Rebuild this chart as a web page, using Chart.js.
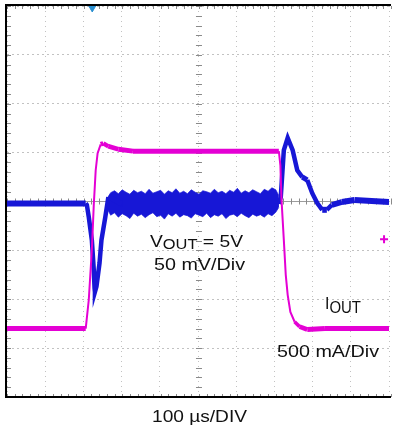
<!DOCTYPE html>
<html>
<head>
<meta charset="utf-8">
<script src="https://cdn.jsdelivr.net/npm/chart.js@4/dist/chart.umd.min.js"></script>
<style>
  html, body { margin: 0; padding: 0; background: #fff; overflow: hidden; }
  canvas { display: block; }
</style>
</head>
<body>
<canvas id="scope" width="395" height="427"></canvas>
<script>
// time in us (100 us/div), levels in screen divisions
const Iout_t = [0, 100, 205, 213, 221, 226, 231, 236, 244, 251, 264, 290, 328, 500, 708, 712, 715, 721, 726, 731, 738, 749, 762, 782, 828, 995];
const Iout_v = [-2.60, -2.60, -2.60, -2.01, -0.99, -0.07, 0.64, 0.99, 1.17, 1.19, 1.13, 1.07, 1.03, 1.03, 1.03, 0.74, 0.03, -0.79, -1.50, -1.91, -2.26, -2.46, -2.56, -2.62, -2.60, -2.60];

const Vout_t = [0, 100, 205, 208, 213, 221, 226, 228, 229, 233, 241, 246, 256, 264, 300, 400, 500, 600, 708, 713, 721, 731, 744, 756, 769, 782, 795, 808, 821, 833, 846, 872, 905, 995];
const Vout_v = [-0.04, -0.04, -0.04, -0.07, -0.32, -0.79, -1.40, -1.77, -1.85, -1.74, -1.26, -0.79, -0.32, 0.09, -0.05, -0.05, -0.05, -0.05, -0.05, 0.09, 1.05, 1.30, 1.05, 0.64, 0.50, 0.44, 0.17, -0.03, -0.17, -0.17, -0.07, -0.01, 0.03, -0.01];

// ripple envelope of VOUT while the load is on
const Noise_t = [262, 270, 280, 290, 300, 310, 320, 330, 340, 350, 360, 370, 380, 390, 400, 410, 420, 430, 440, 450, 460, 470, 480,
  490, 500, 510, 520, 530, 540, 550, 560, 570, 580, 590, 600, 610, 620, 630, 640, 650, 660, 670, 680, 690, 700, 708];
const Noise_hi = [0.08, 0.18, 0.22, 0.16, 0.24, 0.19, 0.15, 0.23, 0.18, 0.21, 0.16, 0.25, 0.17, 0.20, 0.23, 0.15, 0.22, 0.18, 0.26, 0.17, 0.21, 0.16, 0.24,
  0.19, 0.15, 0.22, 0.20, 0.17, 0.25, 0.18, 0.21, 0.16, 0.23, 0.19, 0.27, 0.17, 0.22, 0.18, 0.24, 0.20, 0.16, 0.25, 0.21, 0.28, 0.24, 0.12];
const Noise_lo = [-0.16, -0.28, -0.23, -0.32, -0.25, -0.29, -0.35, -0.24, -0.30, -0.26, -0.33, -0.27, -0.23, -0.31, -0.28, -0.36, -0.25, -0.30, -0.24, -0.32, -0.27, -0.29, -0.34,
  -0.25, -0.28, -0.31, -0.24, -0.33, -0.27, -0.30, -0.25, -0.35, -0.28, -0.26, -0.31, -0.24, -0.29, -0.33, -0.26, -0.30, -0.27, -0.32, -0.25, -0.29, -0.22, -0.12];

const Trig_marker = [{x: 222, y: 3.96}];
const Ch_marker = [{x: 982, y: -0.77}];

const MAGENTA = '#e400d4';
const BLUE = '#1717d6';
const FONT = '"Liberation Sans", Arial, sans-serif';

function pts(t, v) { return t.map((x, i) => ({x: x, y: v[i]})); }

// a scope trace is thick vertically (noise) but thin on fast edges
function traceWidth(band, min) {
  return ctx => {
    const dx = Math.abs(ctx.p1.x - ctx.p0.x), dy = Math.abs(ctx.p1.y - ctx.p0.y);
    const len = Math.hypot(dx, dy) || 1;
    return Math.max(min, band * dx / len);
  };
}

function drawRuns(ctx, runs, x, y, width) {
  let total = 0;
  for (const r of runs) {
    ctx.font = r.size + 'px ' + FONT;
    r.w = ctx.measureText(r.t).width;
    total += r.w;
  }
  ctx.save();
  ctx.translate(x, y);
  ctx.scale(width / total, 1);
  let cx = 0;
  for (const r of runs) {
    ctx.font = r.size + 'px ' + FONT;
    ctx.fillText(r.t, cx, r.dy || 0);
    cx += r.w;
  }
  ctx.restore();
}

const graticule = {
  id: 'graticule',
  beforeDatasetsDraw(chart) {
    const {ctx, chartArea: a, scales: {x, y}} = chart;
    const cx = x.getPixelForValue(500), cy = y.getPixelForValue(0);
    ctx.save();
    ctx.strokeStyle = '#9c9c9c';
    ctx.lineWidth = 1;
    ctx.beginPath();
    ctx.moveTo(a.left, cy); ctx.lineTo(a.right, cy);
    ctx.stroke();
    ctx.strokeStyle = '#8a8a8a';
    ctx.beginPath();
    for (let v = 0; v <= 1000; v += 20) {
      const px = Math.round(x.getPixelForValue(v)) + 0.5;
      ctx.moveTo(px, cy - 3); ctx.lineTo(px, cy + 3);
      ctx.moveTo(px, a.top); ctx.lineTo(px, a.top + 3);
      ctx.moveTo(px, a.bottom); ctx.lineTo(px, a.bottom - 3);
    }
    for (let k = -20; k <= 20; k++) {
      const py = Math.round(y.getPixelForValue(k / 5)) + 0.5;
      ctx.moveTo(cx - 3, py); ctx.lineTo(cx + 3, py);
      ctx.moveTo(a.left, py); ctx.lineTo(a.left + 4, py);
    }
    ctx.stroke();
    ctx.restore();
  },
  afterDatasetsDraw(chart) {
    const {ctx, chartArea: a} = chart;
    ctx.save();
    ctx.strokeStyle = '#000';
    ctx.lineWidth = 2;
    ctx.beginPath();
    ctx.moveTo(a.right + 2, a.top - 1);
    ctx.lineTo(a.left - 1, a.top - 1);
    ctx.lineTo(a.left - 1, a.bottom);
    ctx.lineTo(a.right + 2, a.bottom);
    ctx.stroke();
    ctx.restore();
  },
  afterDraw(chart) {
    const ctx = chart.ctx;
    ctx.save();
    ctx.fillStyle = '#111';
    ctx.textBaseline = 'alphabetic';
    drawRuns(ctx, [{t: 'V', size: 17}, {t: 'OUT', size: 14.5, dy: 1.6}, {t: ' = 5V', size: 17}], 150, 247, 93);
    drawRuns(ctx, [{t: '50 mV/Div', size: 17}], 154, 270, 91);
    drawRuns(ctx, [{t: 'I', size: 17}, {t: 'OUT', size: 16, dy: 4}], 325, 309, 36);
    drawRuns(ctx, [{t: '500 mA/Div', size: 17}], 277, 357, 102);
    drawRuns(ctx, [{t: '100 \u00b5s/DIV', size: 17}], 152, 422, 95);
    ctx.restore();
  }
};

new Chart(document.getElementById('scope'), {
  type: 'line',
  data: {
    datasets: [
      {
        label: 'Ch marker', data: Ch_marker, showLine: false,
        pointStyle: 'cross', pointRadius: 4, pointBorderWidth: 2,
        pointBorderColor: MAGENTA, pointBackgroundColor: MAGENTA,
      },
      {
        label: 'IOUT', data: pts(Iout_t, Iout_v),
        borderColor: MAGENTA, borderWidth: 5, pointRadius: 0, tension: 0,
        segment: {borderWidth: traceWidth(5, 2)},
      },
      {
        label: 'VOUT', data: pts(Vout_t, Vout_v),
        borderColor: BLUE, borderWidth: 6, pointRadius: 0, tension: 0,
        segment: {borderWidth: traceWidth(6, 4.5)},
      },
      {
        label: 'ripple hi', data: pts(Noise_t, Noise_hi),
        borderWidth: 1, borderColor: 'rgba(23,23,214,0.7)', pointRadius: 0, tension: 0,
        fill: '+1', backgroundColor: BLUE,
      },
      {
        label: 'ripple lo', data: pts(Noise_t, Noise_lo),
        borderWidth: 1, borderColor: 'rgba(23,23,214,0.7)', pointRadius: 0, tension: 0, fill: false,
      },
      {
        label: 'Trigger', data: Trig_marker, showLine: false,
        pointStyle: 'triangle', rotation: 180, pointRadius: 4,
        pointBorderColor: '#2a8fd0', pointBackgroundColor: '#2a8fd0',
      },
    ]
  },
  options: {
    responsive: false,
    animation: false,
    events: [],
    layout: {padding: {left: 7, top: 6, right: 0, bottom: 30}},
    plugins: {legend: {display: false}, tooltip: {enabled: false}},
    scales: {
      x: {
        type: 'linear', min: 0, max: 994.9,
        ticks: {display: false, stepSize: 100, includeBounds: false},
        grid: {color: '#c2c2c2', lineWidth: 1, drawTicks: false},
        border: {display: false, dash: [1, 4]},
      },
      y: {
        type: 'linear', min: -4, max: 4,
        ticks: {display: false, stepSize: 1, includeBounds: false},
        grid: {color: '#c2c2c2', lineWidth: 1, drawTicks: false},
        border: {display: false, dash: [2, 3]},
      },
    },
  },
  plugins: [graticule],
});
</script>
</body>
</html>
